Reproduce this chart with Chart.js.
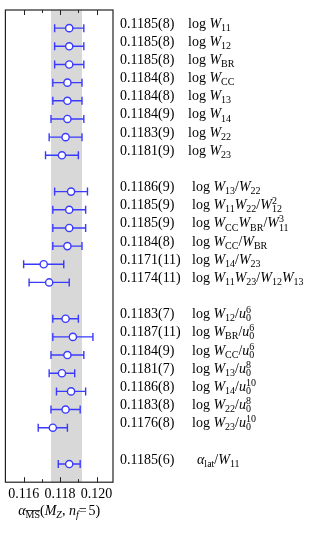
<!DOCTYPE html>
<html>
<head>
<meta charset="utf-8">
<script src="https://cdn.jsdelivr.net/npm/chart.js@4/dist/chart.umd.min.js"></script>
<style>
  html, body { margin: 0; padding: 0; background: #fff; }
  #wrap { width: 325px; height: 533px; }
</style>
</head>
<body>
<div id="wrap"><canvas id="chart"></canvas></div>
<script>
// alpha_s determinations, one row per observable (row index counts from the top)
const rows = [0, 1, 2, 3, 4, 5, 6, 7, 9, 10, 11, 12, 13, 14, 16, 17, 18, 19, 20, 21, 22, 24];
const groups = [0, 0, 0, 0, 0, 0, 0, 0, 1, 1, 1, 1, 1, 1, 2, 2, 2, 2, 2, 2, 2, 3];
const values = [0.1185, 0.1185, 0.1185, 0.1184, 0.1184, 0.1184, 0.1183, 0.1181,
                0.1186, 0.1185, 0.1185, 0.1184, 0.1171, 0.1174,
                0.1183, 0.1187, 0.1184, 0.1181, 0.1186, 0.1183, 0.1176,
                0.1185];
const errors = [8, 8, 8, 8, 8, 9, 9, 9,
                9, 9, 9, 8, 11, 11,
                7, 11, 9, 7, 8, 8, 8,
                6]; // in units of 1e-4
const observables = [
  "log W_{11}", "log W_{12}", "log W_{BR}", "log W_{CC}",
  "log W_{13}", "log W_{14}", "log W_{22}", "log W_{23}",
  "log W_{13}/W_{22}", "log W_{11}W_{22}/W_{12}^{2}", "log W_{CC}W_{BR}/W_{11}^{3}",
  "log W_{CC}/W_{BR}", "log W_{14}/W_{23}", "log W_{11}W_{23}/W_{12}W_{13}",
  "log W_{12}/u_{0}^{6}", "log W_{BR}/u_{0}^{6}", "log W_{CC}/u_{0}^{6}", "log W_{13}/u_{0}^{8}",
  "log W_{14}/u_{0}^{10}", "log W_{22}/u_{0}^{8}", "log W_{23}/u_{0}^{10}",
  "α_{lat}/W_{11}"
];
const band = [0.1175, 0.1192];
const xTicks = [0.116, 0.118, 0.120];
const xMinorTicks = [0.117, 0.119];
const xTitle = "α_{~MS}(M_{*Z}, n_{*f}=5)";

const BLUE = "#3a3aff";
const SERIF = '"Liberation Serif", "DejaVu Serif", serif';

// tiny TeX-ish text drawer: log = roman, letters italic, _{} sub, ^{} sup
function drawRich(ctx, s, x, y, size, measureOnly) {
  const small = Math.round(size * 0.74);
  let cx = x, subStart = null, prevSub = false;
  let i = 0;
  while (i < s.length) {
    const ch = s[i];
    if ((ch === "_" || ch === "^") && s[i + 1] === "{") {
      const j = s.indexOf("}", i);
      let content = s.slice(i + 2, j);
      let italic = false, over = false;
      if (content[0] === "*") { italic = true; content = content.slice(1); }
      if (content[0] === "~") { over = true; content = content.slice(1); }
      ctx.font = (italic ? "italic " : "") + small + "px " + SERIF;
      const w = ctx.measureText(content).width;
      if (ch === "_") {
        if (!measureOnly) {
          ctx.fillText(content, cx, y + size * 0.22);
          if (over) ctx.fillRect(cx, y + size * 0.22 - small * 0.8, w, 0.8);
        }
        subStart = cx; prevSub = true;
        cx += w;
      } else {
        const sx = prevSub ? subStart : cx;
        if (!measureOnly) ctx.fillText(content, sx, y - size * 0.36);
        cx = Math.max(cx, sx + w);
        prevSub = false;
      }
      i = j + 1;
      continue;
    }
    prevSub = false;
    let txt, italic;
    if (s.startsWith("log ", i)) { txt = "log "; italic = false; i += 4; }
    else { txt = ch; italic = /[A-Za-zα]/.test(ch); i += 1; }
    ctx.font = (italic ? "italic " : "") + size + "px " + SERIF;
    if (!measureOnly) ctx.fillText(txt, cx, y);
    cx += ctx.measureText(txt).width + (txt === "=" ? 2 : 0);
  }
  return cx - x;
}

const indent = [75, 79, 79, 84];

const forestPlugin = {
  id: "forest",
  beforeDatasetsDraw(chart) {
    const { ctx, chartArea: a, scales: { x, y } } = chart;
    ctx.save();
    // gray band
    ctx.fillStyle = "#d8d8d8";
    const b0 = x.getPixelForValue(band[0]), b1 = x.getPixelForValue(band[1]);
    ctx.fillRect(b0, a.top, b1 - b0, a.bottom - a.top);
    // error bars
    ctx.strokeStyle = BLUE;
    ctx.lineWidth = 1.4;
    values.forEach((v, i) => {
      const e = errors[i] * 1e-4;
      const py = y.getPixelForValue(rows[i]);
      const l = x.getPixelForValue(v - e), r = x.getPixelForValue(v + e);
      ctx.beginPath();
      ctx.moveTo(l, py); ctx.lineTo(r, py);
      ctx.moveTo(l, py - 4); ctx.lineTo(l, py + 4);
      ctx.moveTo(r, py - 4); ctx.lineTo(r, py + 4);
      ctx.stroke();
    });
    ctx.restore();
  },
  afterDraw(chart) {
    const { ctx, chartArea: a, scales: { x, y } } = chart;
    ctx.save();
    // frame
    ctx.strokeStyle = "#222";
    ctx.lineWidth = 1.2;
    ctx.strokeRect(a.left, a.top, a.right - a.left, a.bottom - a.top);
    // inward ticks top and bottom
    ctx.lineWidth = 1;
    const tick = (v, len) => {
      const px = Math.round(x.getPixelForValue(v)) + 0.5;
      ctx.beginPath();
      ctx.moveTo(px, a.top); ctx.lineTo(px, a.top + len);
      ctx.moveTo(px, a.bottom); ctx.lineTo(px, a.bottom - len);
      ctx.stroke();
    };
    xTicks.forEach(v => tick(v, 5));
    xMinorTicks.forEach(v => tick(v, 3));
    // right-hand labels
    ctx.fillStyle = "#000";
    ctx.textBaseline = "alphabetic";
    ctx.textAlign = "left";
    values.forEach((v, i) => {
      const py = y.getPixelForValue(rows[i]) - 0.5;
      ctx.font = "14px " + SERIF;
      ctx.fillText(v.toFixed(4) + "(" + errors[i] + ")", a.right + 7, py);
      drawRich(ctx, observables[i], a.right + indent[groups[i]], py, 14);
    });
    // axis title
    const w = drawRich(ctx, xTitle, 0, 0, 14, true);
    drawRich(ctx, xTitle, (a.left + a.right) / 2 - w / 2, 515, 14);
    ctx.restore();
  }
};

new Chart(document.getElementById("chart"), {
  type: "scatter",
  data: {
    datasets: [{
      data: values.map((v, i) => ({ x: v, y: rows[i] })),
      pointRadius: 3.6,
      pointBorderWidth: 1.4,
      pointBackgroundColor: "#fff",
      pointBorderColor: BLUE
    }]
  },
  options: {
    responsive: true,
    maintainAspectRatio: false,
    animation: false,
    layout: { padding: { left: 3, right: 212, top: 10, bottom: 26 } },
    plugins: { legend: { display: false }, tooltip: { enabled: false } },
    scales: {
      x: {
        type: "linear",
        min: 0.115,
        max: 0.1209,
        afterBuildTicks: s => { s.ticks = xTicks.map(v => ({ value: v })); },
        grid: { display: false, drawTicks: false },
        border: { display: false },
        ticks: {
          autoSkip: false,
          maxRotation: 0,
          padding: 4,
          color: "#000",
          font: { family: SERIF, size: 14 },
          callback: v => v.toFixed(3)
        }
      },
      y: { display: false, min: -1, max: 25, reverse: true }
    }
  },
  plugins: [forestPlugin]
});
</script>
</body>
</html>
